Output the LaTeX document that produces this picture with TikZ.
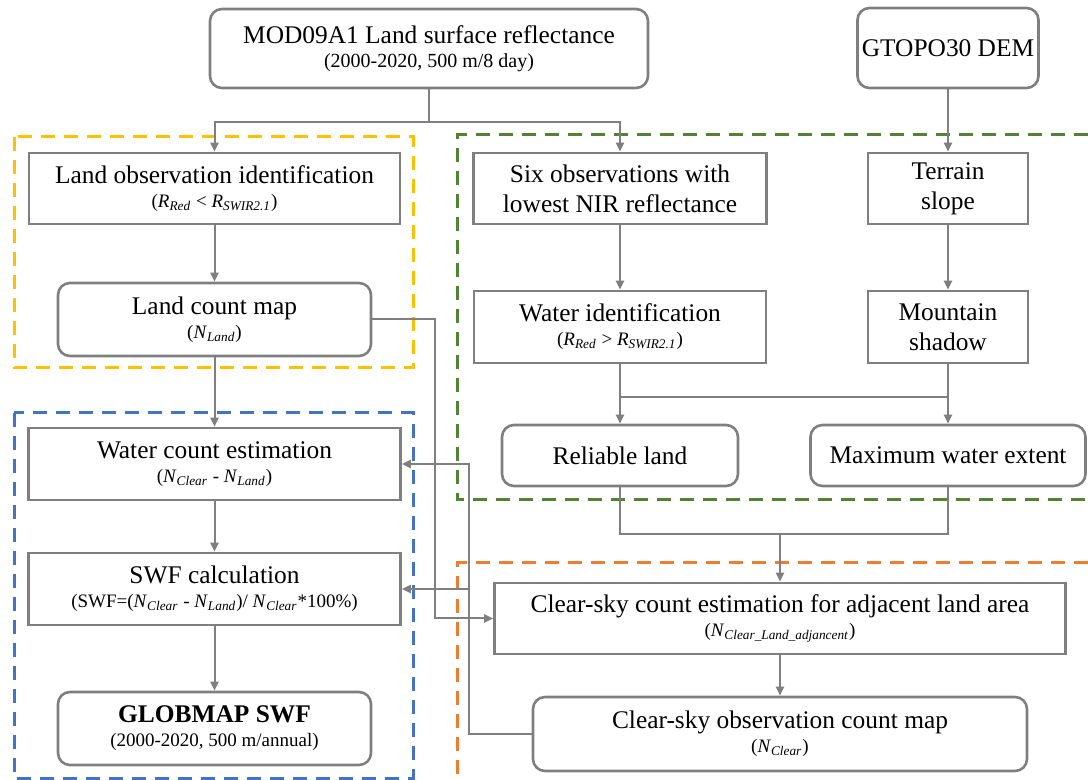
\documentclass[tikz,border=0pt]{standalone}
\usepackage{fontspec}
\setmainfont{Liberation Serif}
\usetikzlibrary{arrows.meta}

\definecolor{linegray}{HTML}{7F7F7F}
\definecolor{frameyellow}{HTML}{FFC000}
\definecolor{framegreen}{HTML}{548235}
\definecolor{frameblue}{HTML}{4472C4}
\definecolor{frameorange}{HTML}{ED7D31}

\newcommand{\titlefont}{\fontsize{12.7}{15}\selectfont}
\newcommand{\notefont}{\fontsize{9.5}{11.5}\selectfont}
\newcommand{\itsub}[2]{\textit{#1}\textsubscript{\textit{#2}}}

\tikzset{
  box/.style={draw=linegray, line width=1.3pt, fill=white, align=center,
    inner sep=0pt, font=\titlefont},
  rbox/.style={box, rounded corners=6pt},
  conn/.style={draw=linegray, line width=1pt},
  connarrow/.style={conn, -{Triangle[length=4.5pt,width=4pt]}},
  groupframe/.style={line width=1.5pt, dash pattern=on 7pt off 4.5pt},
}

\begin{document}
\begin{tikzpicture}[x=0.5pt, y=-0.5pt]
            \useasboundingbox (0,0) rectangle (1088,780);

            % Drawing frame of land part
            \draw [groupframe, frameyellow] (14,137) rectangle (413,368);%

            % Drawing frame of water and land masks
            \draw [groupframe, framegreen] (1088,135) -- (457,135) -- (457,500) -- (1088,500);%

            % Drawing frame of SWF part
            \draw [groupframe, frameblue] (14,413) rectangle (413,778);%

            % Drawing frame of clear-sky part
            \draw [groupframe, frameorange] (1088,563) -- (457,563) -- (457,780);%

            % Drawing input boxes
            \node [rbox, minimum width=219pt, minimum height=39.5pt] (mod) at (429,48.5)
              {MOD09A1 Land surface reflectance\\[-3pt]{\fontsize{10}{12}\selectfont (2000-2020, 500 m/8 day)}};%
            \node [rbox, minimum width=90.5pt, minimum height=40pt] (gtopo) at (948,48) {GTOPO30 DEM};%

            % Drawing boxes of land part
            \node [box, minimum width=185.5pt, minimum height=35.5pt] (landobs) at (214.5,188.5)
              {Land observation identification\\[-3pt]{\notefont (\itsub{R}{Red} < \itsub{R}{SWIR2.1})}};%
            \node [rbox, minimum width=156.5pt, minimum height=36.5pt] (landcount) at (214.5,319.5)
              {Land count map\\[-3pt]{\notefont (\itsub{N}{Land})}};%

            % Drawing boxes of water and land masks
            \node [box, minimum width=146.5pt, minimum height=35.5pt] (sixobs) at (620,188.5)
              {Six observations with\\lowest NIR reflectance};%
            \node [box, minimum width=80pt, minimum height=35.5pt] (terrain) at (948,188.5) {Terrain\\slope};%
            \node [box, minimum width=146pt, minimum height=36pt] (waterid) at (620,327)
              {Water identification\\[-3pt]{\notefont (\itsub{R}{Red} > \itsub{R}{SWIR2.1})}};%
            \node [box, minimum width=80pt, minimum height=36pt] (mountain) at (948,327) {Mountain\\shadow};%
            \node [rbox, minimum width=118pt, minimum height=30.5pt] (reliable) at (620,455.5) {Reliable land};%
            \node [rbox, minimum width=137.5pt, minimum height=30.5pt] (maxwater) at (948,455.5) {Maximum water extent};%

            % Drawing boxes of SWF part
            \node [box, minimum width=186pt, minimum height=36pt] (watercount) at (214.5,464)
              {Water count estimation\\[-3pt]{\notefont (\itsub{N}{Clear} - \itsub{N}{Land})}};%
            \node [box, minimum width=186pt, minimum height=36pt] (swf) at (214.5,589)
              {SWF calculation\\[-3pt]{\notefont (SWF=(\itsub{N}{Clear} - \itsub{N}{Land})/ \itsub{N}{Clear}*100\%)}};%
            \node [rbox, minimum width=156.5pt, minimum height=36.5pt] (globmap) at (214.5,728.5)
              {\textbf{GLOBMAP SWF}\\[-3pt]{\notefont (2000-2020, 500 m/annual)}};%

            % Drawing boxes of clear-sky part
            \node [box, minimum width=285.5pt, minimum height=35.5pt] (clearest) at (780,618.5)
              {Clear-sky count estimation for adjacent land area\\[-3pt]{\notefont (\itsub{N}{Clear\_Land\_adjancent})}};%
            \node [rbox, minimum width=247pt, minimum height=37pt] (clearobs) at (780,734)
              {Clear-sky observation count map\\[-3pt]{\notefont (\itsub{N}{Clear})}};%

            % Drawing split points
            \coordinate (modsplit) at (429,122);%
            \coordinate (idjoin) at (784,397);%
            \coordinate (rmjoin) at (780,534);%
            \coordinate (clearbus) at (469,464);%

            % Drawing arrows from inputs
            \draw [conn] (mod.south) -- (modsplit);%
            \draw [connarrow] (modsplit) -| (landobs.north);%
            \draw [connarrow] (modsplit) -| (sixobs.north);%
            \draw [connarrow] (gtopo.south) -- (terrain.north);%

            % Drawing arrows of land part
            \draw [connarrow] (landobs.south) -- (landcount.north);%
            \draw [connarrow] (landcount.south) -- (watercount.north);%
            \draw [connarrow] (landcount.east) -- ++(63,0) |- (clearest.west);%

            % Drawing arrows of water and land masks
            \draw [connarrow] (sixobs.south) -- (waterid.north);%
            \draw [connarrow] (terrain.south) -- (mountain.north);%
            \draw [conn] (waterid.south) |- (mountain.south |- idjoin) -- (mountain.south);%
            \draw [connarrow] (reliable.north |- idjoin) -- (reliable.north);%
            \draw [connarrow] (maxwater.north |- idjoin) -- (maxwater.north);%
            \draw [conn] (reliable.south) |- (maxwater.south |- rmjoin) -- (maxwater.south);%
            \draw [connarrow] (rmjoin) -- (clearest.north);%

            % Drawing arrows of clear-sky part
            \draw [connarrow] (clearest.south) -- (clearobs.north);%
            \draw [connarrow] (clearobs.west) -| (clearbus) -- (watercount.east);%
            \draw [connarrow] (clearbus |- swf.east) -- (swf.east);%

            % Drawing arrows of SWF part
            \draw [connarrow] (watercount.south) -- (swf.north);%
            \draw [connarrow] (swf.south) -- (globmap.north);%
\end{tikzpicture}
\end{document}
